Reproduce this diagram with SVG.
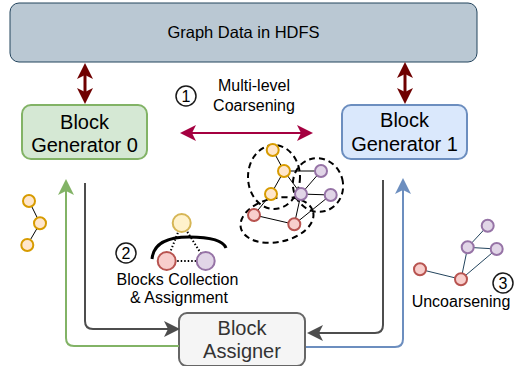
<svg xmlns="http://www.w3.org/2000/svg" width="518" height="366" viewBox="0 0 518 366">
<style>
text{font-family:"Liberation Sans",Arial,Helvetica,sans-serif;text-anchor:middle;fill:#000}
.lbl{font-size:16px}
.big{font-size:20px}
.num{font-size:16px}
.ncirc{fill:#fff;stroke:#1a1a1a;stroke-width:1.5}
.yo{fill:#ffe6cc;stroke:#d79b00;stroke-width:2}
.yl{fill:#fff2cc;stroke:#d6b656;stroke-width:2}
.rd{fill:#f8cecc;stroke:#b85450;stroke-width:2}
.pu{fill:#e1d5e7;stroke:#9673a6;stroke-width:2}
.edge{stroke:#000;stroke-width:1;fill:none}
.edgeb{stroke:#23445d;stroke-width:1;fill:none}
.grp{fill:none;stroke:#000;stroke-width:2;stroke-dasharray:6 4}
</style>
<defs>
<marker id="ar-red" markerUnits="userSpaceOnUse" markerWidth="16" markerHeight="16" viewBox="0 0 16 16" refX="4" refY="8" orient="auto-start-reverse"><path d="M0,0 L16,8 L0,16 L4,8 Z" fill="#6f0000"/></marker>
<marker id="ar-crim" markerUnits="userSpaceOnUse" markerWidth="16" markerHeight="16" viewBox="0 0 16 16" refX="4" refY="8" orient="auto-start-reverse"><path d="M0,0 L16,8 L0,16 L4,8 Z" fill="#a50040"/></marker>
<marker id="ar-gray" markerUnits="userSpaceOnUse" markerWidth="16" markerHeight="16" viewBox="0 0 16 16" refX="4" refY="8" orient="auto"><path d="M0,0 L16,8 L0,16 L4,8 Z" fill="#4d4d4d"/></marker>
<marker id="ar-green" markerUnits="userSpaceOnUse" markerWidth="16" markerHeight="16" viewBox="0 0 16 16" refX="4" refY="8" orient="auto"><path d="M0,0 L16,8 L0,16 L4,8 Z" fill="#82b366"/></marker>
<marker id="ar-blue" markerUnits="userSpaceOnUse" markerWidth="16" markerHeight="16" viewBox="0 0 16 16" refX="4" refY="8" orient="auto"><path d="M0,0 L16,8 L0,16 L4,8 Z" fill="#6c8ebf"/></marker>
</defs>

<g id="hdfs">
<rect x="10" y="3" width="467" height="59" rx="9" fill="#bac8d3" stroke="#23445d" stroke-width="1"/>
<text class="lbl" x="243.5" y="38" style="font-size:16.5px">Graph Data in HDFS</text>
</g>

<g id="gen0">
<rect x="22" y="105" width="125" height="54" rx="9" fill="#d5e8d4" stroke="#82b366" stroke-width="2"/>
<text class="big" x="84.5" y="129">Block</text>
<text class="big" x="84.5" y="152">Generator 0</text>
</g>

<g id="gen1">
<rect x="342" y="105" width="125" height="54" rx="9" fill="#dae8fc" stroke="#6c8ebf" stroke-width="2"/>
<text class="big" x="404.5" y="127">Block</text>
<text class="big" x="404.5" y="151">Generator 1</text>
</g>

<g id="assigner">
<rect x="179" y="313" width="126" height="53" rx="8" fill="#f5f5f5" stroke="#666666" stroke-width="2"/>
<text class="big" x="242" y="335" style="fill:#333">Block</text>
<text class="big" x="242" y="358" style="fill:#333">Assigner</text>
</g>

<g id="connectors">
<path d="M85,75 L85,92" stroke="#6f0000" stroke-width="3" fill="none" marker-start="url(#ar-red)" marker-end="url(#ar-red)"/>
<path d="M405,74 L405,92" stroke="#6f0000" stroke-width="3" fill="none" marker-start="url(#ar-red)" marker-end="url(#ar-red)"/>
<path d="M192,133 L301,133" stroke="#a50040" stroke-width="2" fill="none" marker-start="url(#ar-crim)" marker-end="url(#ar-crim)"/>
<path d="M85,183 L85,321 Q85,329 93,329 L168,329" stroke="#4d4d4d" stroke-width="2" fill="none" marker-end="url(#ar-gray)"/>
<path d="M179,346 L74,346 Q66,346 66,338 L66,191" stroke="#82b366" stroke-width="2" fill="none" marker-end="url(#ar-green)"/>
<path d="M383,180 L383,325 Q383,333 375,333 L319,333" stroke="#4d4d4d" stroke-width="2" fill="none" marker-end="url(#ar-gray)"/>
<path d="M306,347 L395,347 Q403,347 403,339 L403,190" stroke="#6c8ebf" stroke-width="2" fill="none" marker-end="url(#ar-blue)"/>
</g>

<g id="step1">
<circle class="ncirc" cx="186" cy="96" r="10"/>
<text class="num" x="186" y="102">1</text>
<text class="lbl" x="254" y="91">Multi-level</text>
<text class="lbl" x="254" y="111">Coarsening</text>
</g>

<g id="coarse-graph">
<ellipse class="grp" cx="274" cy="177" rx="26" ry="32"/>
<ellipse class="grp" cx="318" cy="185" rx="25" ry="27" transform="rotate(-15 318 185)"/>
<ellipse class="grp" cx="277" cy="220" rx="37" ry="22" transform="rotate(-12 277 220)"/>
<path class="edge" d="M272.7,150 L284,171 M284,171 L271,194 M284,171 L321,171 M284,171 L301,194 M271,194 L254,215 M321,171 L301,194 M301,194 L330.7,195 M301,194 L294.3,224.3 M254,215 L294.3,224.3 M330.7,195 L294.3,224.3"/>
<circle class="yo" cx="272.7" cy="150" r="6"/>
<circle class="yo" cx="284" cy="171" r="6"/>
<circle class="yo" cx="271" cy="194" r="6"/>
<circle class="pu" cx="321" cy="171" r="6"/>
<circle class="pu" cx="301" cy="194" r="6"/>
<circle class="pu" cx="330.7" cy="195" r="6"/>
<circle class="rd" cx="254" cy="215" r="6"/>
<circle class="rd" cx="294.3" cy="224.3" r="6"/>
</g>

<g id="left-graph">
<path class="edge" d="M29,201 L40,223.3 L27.3,245"/>
<circle class="yo" cx="29" cy="201" r="6"/>
<circle class="yo" cx="40" cy="223.3" r="6"/>
<circle class="yo" cx="27.3" cy="245" r="6"/>
</g>

<g id="step2">
<path d="M181.7,223 L166.7,261 M181.7,223 L205.7,261 M166.7,261 L205.7,261" stroke="#000" stroke-width="2" stroke-dasharray="1.5 2" fill="none"/>
<path d="M152,259 Q154,237 189,237 Q222,237 226,248" stroke="#000" stroke-width="3" fill="none"/>
<circle class="yl" cx="181.7" cy="223" r="9"/>
<circle class="rd" cx="166.7" cy="261" r="9"/>
<circle class="pu" cx="205.7" cy="261" r="9"/>
<circle class="ncirc" cx="126" cy="253" r="10"/>
<text class="num" x="126" y="259">2</text>
<text class="lbl" x="177.5" y="285">Blocks Collection</text>
<text class="lbl" x="179" y="303">&amp; Assignment</text>
</g>

<g id="step3">
<path class="edgeb" d="M487.7,225.7 L467.7,247.3 L496.7,249 L461,279.3 L467.7,247.3 M420,269.3 L461,279.3"/>
<circle class="pu" cx="487.7" cy="225.7" r="6"/>
<circle class="pu" cx="467.7" cy="247.3" r="6"/>
<circle class="pu" cx="496.7" cy="249" r="6"/>
<circle class="rd" cx="420" cy="269.3" r="6"/>
<circle class="rd" cx="461" cy="279.3" r="6"/>
<circle class="ncirc" cx="503" cy="283" r="10"/>
<text class="num" x="503" y="289">3</text>
<text class="lbl" x="461" y="307">Uncoarsening</text>
</g>
</svg>
